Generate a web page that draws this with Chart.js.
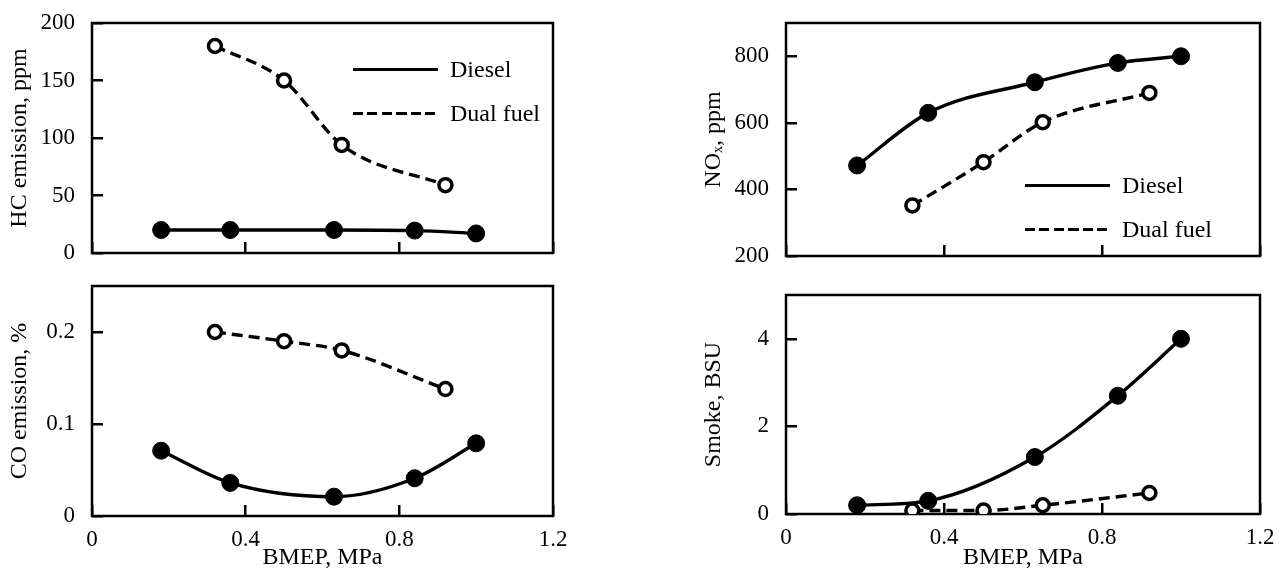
<!DOCTYPE html>
<html lang="en">
<head>
    <meta charset="UTF-8">
    <title>Emissions vs BMEP - Diesel and Dual fuel</title>
    <script src="https://cdn.jsdelivr.net/npm/chart.js"></script>
    <style>
        body { margin: 0; width: 1282px; height: 570px; overflow: hidden; background: #fff; position: relative;
               font-family: "Liberation Serif", "Times New Roman", serif; color: #000; }
        .panel { position: absolute; }
        .legend { position: absolute; font-size: 24px; }
        .legend .item { display: flex; align-items: center; height: 30px; margin-bottom: 14px; white-space: nowrap; }
        .legend .sample { display: inline-block; width: 85px; height: 3px; margin-right: 12px; }
        .legend .solid { background: #000; }
        .legend .dashed { background: repeating-linear-gradient(to right, #000 0 10px, transparent 10px 14.5px); }
    </style>
</head>
<body>
    <!-- four panels -->
    <canvas class="panel" id="chartHC" width="600" height="270" style="left:0;top:0"></canvas>
    <canvas class="panel" id="chartCO" width="600" height="300" style="left:0;top:270px"></canvas>
    <canvas class="panel" id="chartNOx" width="592" height="275" style="left:690px;top:0"></canvas>
    <canvas class="panel" id="chartSmoke" width="592" height="295" style="left:690px;top:275px"></canvas>

    <!-- legends -->
    <div class="legend" style="left:353px;top:54px">
        <div class="item"><span class="sample solid"></span>Diesel</div>
        <div class="item"><span class="sample dashed"></span>Dual fuel</div>
    </div>
    <div class="legend" style="left:1025px;top:170px">
        <div class="item"><span class="sample solid"></span>Diesel</div>
        <div class="item"><span class="sample dashed"></span>Dual fuel</div>
    </div>

    <script>
        // BMEP (MPa) of the test points
        const dieselBmep = [0.18, 0.36, 0.63, 0.84, 1.0];
        const dualBmep = [0.32, 0.50, 0.65, 0.92];
        const bmepTicks = [0, 0.4, 0.8, 1.2];

        // HC emission, ppm
        const hcDiesel = [20, 20, 20, 19.5, 17];
        const hcDual = [180, 150, 94, 59];
        const hcTicks = [0, 50, 100, 150, 200];

        // CO emission, %
        const coDiesel = [0.071, 0.036, 0.021, 0.041, 0.079];
        const coDual = [0.2, 0.19, 0.18, 0.138];
        const coTicks = [0, 0.1, 0.2];

        // NOx, ppm
        const noxDiesel = [472, 630, 722, 780, 800];
        const noxDual = [352, 482, 602, 690];
        const noxTicks = [200, 400, 600, 800];

        // Smoke, BSU
        const smokeDiesel = [0.2, 0.3, 1.3, 2.7, 4.0];
        const smokeDual = [0.08, 0.08, 0.2, 0.48];
        const smokeTicks = [0, 2, 4];

        Chart.defaults.font.family = '"Liberation Serif", "Times New Roman", serif';
        Chart.defaults.color = '#000';

        const pts = (xs, ys) => xs.map((x, i) => ({ x: x, y: ys[i] }));

        // box around the plot area
        const framePlugin = {
            id: 'frame',
            beforeDatasetsDraw(chart) {
                const { ctx, chartArea: a } = chart;
                ctx.save();
                ctx.strokeStyle = '#000';
                ctx.lineWidth = 2.5;
                ctx.strokeRect(a.left, a.top, a.right - a.left, a.bottom - a.top);
                ctx.restore();
            }
        };

        // inner tick marks, no grid lines
        const innerGrid = { display: true, drawOnChartArea: false, drawTicks: true, tickLength: -11, color: '#000', lineWidth: 2.5 };

        function emissionChart(id, p) {
            return new Chart(document.getElementById(id), {
                type: 'line',
                data: {
                    datasets: [{
                        label: 'Diesel',
                        data: pts(dieselBmep, p.diesel),
                        borderColor: '#000',
                        borderWidth: 3.4,
                        cubicInterpolationMode: 'monotone',
                        pointRadius: 8.5,
                        pointBackgroundColor: '#000',
                        pointBorderColor: '#000',
                        pointBorderWidth: 1
                    }, {
                        label: 'Dual fuel',
                        data: pts(dualBmep, p.dual),
                        borderColor: '#000',
                        borderWidth: 3.4,
                        borderDash: [11, 6],
                        cubicInterpolationMode: 'monotone',
                        pointRadius: 6.5,
                        pointBackgroundColor: '#fff',
                        pointBorderColor: '#000',
                        pointBorderWidth: 3.5
                    }]
                },
                options: {
                    responsive: false,
                    animation: false,
                    events: [],
                    layout: { padding: { top: p.padTop, right: p.padRight, left: 0, bottom: 0 } },
                    plugins: { legend: { display: false }, tooltip: { enabled: false } },
                    scales: {
                        x: {
                            type: 'linear', min: 0, max: 1.2,
                            afterBuildTicks: s => { s.ticks = bmepTicks.map(v => ({ value: v })); },
                            afterFit: s => { s.height = p.xHeight; s.paddingLeft = 0; s.paddingRight = 0; },
                            grid: innerGrid,
                            border: { display: false },
                            ticks: { display: p.showX, padding: 21, font: { size: 23 }, callback: v => String(v) },
                            title: { display: p.showX, text: 'BMEP, MPa', font: { size: 24, lineHeight: 1 }, padding: 0 }
                        },
                        y: {
                            type: 'linear', min: p.min, max: p.max,
                            afterBuildTicks: s => { s.ticks = p.ticks.map(v => ({ value: v })); },
                            afterFit: s => { s.width = p.yWidth; s.paddingTop = 0; s.paddingBottom = 0; },
                            grid: innerGrid,
                            border: { display: false },
                            ticks: { padding: 28, font: { size: 23 }, callback: v => String(v) },
                            title: { display: true, text: p.title, font: { size: 24, lineHeight: 1 }, padding: p.titlePad }
                        }
                    }
                },
                plugins: [framePlugin]
            });
        }

        emissionChart('chartHC', {
            diesel: hcDiesel, dual: hcDual, ticks: hcTicks, min: 0, max: 200,
            title: 'HC emission, ppm', showX: false,
            padTop: 23, padRight: 47, xHeight: 17, yWidth: 92, titlePad: 8
        });
        emissionChart('chartCO', {
            diesel: coDiesel, dual: coDual, ticks: coTicks, min: 0, max: 0.25,
            title: 'CO emission, %', showX: true,
            padTop: 16, padRight: 47, xHeight: 54, yWidth: 92, titlePad: 8
        });
        emissionChart('chartNOx', {
            diesel: noxDiesel, dual: noxDual, ticks: noxTicks, min: 200, max: 900,
            title: 'NOₓ, ppm', showX: false,
            padTop: 23, padRight: 22, xHeight: 19, yWidth: 96, titlePad: 12
        });
        emissionChart('chartSmoke', {
            diesel: smokeDiesel, dual: smokeDual, ticks: smokeTicks, min: 0, max: 5,
            title: 'Smoke, BSU', showX: true,
            padTop: 20, padRight: 22, xHeight: 56, yWidth: 96, titlePad: 12
        });
    </script>
</body>
</html>
